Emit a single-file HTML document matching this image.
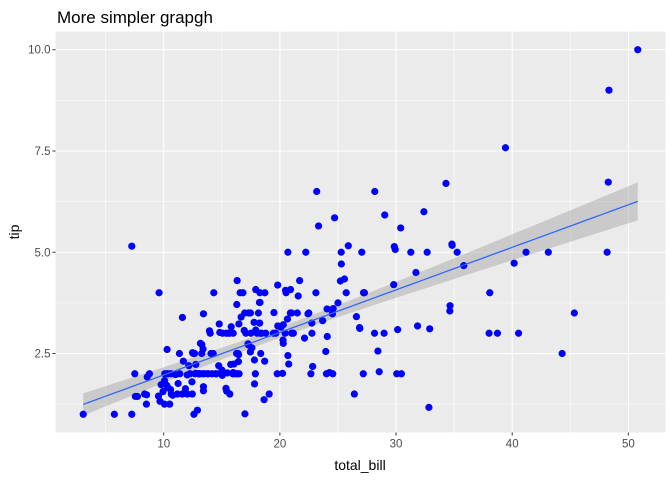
<!DOCTYPE html>
<html><head><meta charset="utf-8"><style>
body{margin:0;background:#fff;font-family:"Liberation Sans",sans-serif}
</style></head><body>
<svg id="chart" width="672" height="480" xmlns="http://www.w3.org/2000/svg">
<text x="57" y="23" font-size="17" fill="#000">More simpler grapgh</text>
<rect x="55.5" y="31.5" width="610" height="401" fill="#EBEBEB"/>
<g id="grid"></g><g id="band"></g><g id="pts"></g><g id="axes"></g>
<text x="360" y="470" font-size="14" text-anchor="middle" fill="#000">total_bill</text>
<text transform="translate(19,232) rotate(-90)" font-size="14" text-anchor="middle" fill="#000">tip</text>
</svg>
<script>
const totalBill=[16.99,10.34,21.01,23.68,24.59,25.29,8.77,26.88,15.04,14.78,10.27,35.26,15.42,18.43,14.83,21.58,10.33,16.29,16.97,20.65,17.92,20.29,15.77,39.42,19.82,17.81,13.37,12.69,21.7,19.65,9.55,18.35,15.06,20.69,17.78,24.06,16.31,16.93,18.69,31.27,16.04,17.46,13.94,9.68,30.4,18.29,22.23,32.4,28.55,18.04,12.54,10.29,34.81,9.94,25.56,19.49,38.01,26.41,11.24,48.27,20.29,13.81,11.02,18.29,17.59,20.08,16.45,3.07,20.23,15.01,12.02,17.07,26.86,25.28,14.73,10.51,17.92,27.2,22.76,17.29,19.44,16.66,10.07,32.68,15.98,34.83,13.03,18.28,24.71,21.16,28.97,22.49,5.75,16.32,22.75,40.17,27.28,12.03,21.01,12.46,11.35,15.38,44.3,22.42,20.92,15.36,20.49,25.21,18.24,14.31,14.0,7.25,38.07,23.95,25.71,17.31,29.93,10.65,12.43,24.08,11.69,13.42,14.26,15.95,12.48,29.8,8.52,14.52,11.38,22.82,19.08,20.27,11.17,12.26,18.26,8.51,10.33,14.15,16.0,13.16,17.47,34.3,41.19,27.05,16.43,8.35,18.64,11.87,9.78,7.51,14.07,13.13,17.26,24.55,19.77,29.85,48.17,25.0,13.39,16.49,21.5,12.66,16.21,13.81,17.51,24.52,20.76,31.71,10.59,10.63,50.81,15.81,7.25,31.85,16.82,32.9,17.89,14.48,9.6,34.63,34.65,23.33,45.35,23.17,40.55,20.69,20.9,30.46,18.15,23.1,15.69,19.81,28.44,15.48,16.58,7.56,10.34,43.11,13.0,13.51,18.71,12.74,13.0,16.4,20.53,16.47,26.59,38.73,24.27,12.76,30.06,25.89,48.33,13.27,28.17,12.9,28.15,11.59,7.74,30.14,12.16,13.42,8.58,15.98,13.42,16.27,10.09,20.45,13.28,22.12,24.01,15.69,11.61,10.77,15.53,10.07,12.6,32.83,35.83,29.03,27.18,22.67,17.82,18.78];
const tip=[1.01,1.66,3.5,3.31,3.61,4.71,2.0,3.12,1.96,3.23,1.71,5.0,1.57,3.0,3.02,3.92,1.67,3.71,3.5,3.35,4.08,2.75,2.23,7.58,3.18,2.34,2.0,2.0,4.3,3.0,1.45,2.5,3.0,2.45,3.27,3.6,2.0,3.07,2.31,5.0,2.24,2.54,3.06,1.32,5.6,3.0,5.0,6.0,2.05,3.0,2.5,2.6,5.2,1.56,4.34,3.51,3.0,1.5,1.76,6.73,3.21,2.0,1.98,3.76,2.64,3.15,2.47,1.0,2.01,2.09,1.97,3.0,3.14,5.0,2.2,1.25,3.08,4.0,3.0,2.71,3.0,3.4,1.83,5.0,2.03,5.17,2.0,4.0,5.85,3.0,3.0,3.5,1.0,4.3,3.25,4.73,4.0,1.5,3.0,1.5,2.5,3.0,2.5,3.48,4.08,1.64,4.06,4.29,3.76,4.0,3.0,1.0,4.0,2.55,4.0,3.5,5.07,1.5,1.8,2.92,2.31,1.68,2.5,2.0,2.52,4.2,1.48,2.0,2.0,2.18,1.5,2.83,1.5,2.0,3.25,1.25,2.0,2.0,2.0,2.75,3.5,6.7,5.0,5.0,2.3,1.5,1.36,1.63,1.73,2.0,2.5,2.0,2.74,2.0,2.0,5.14,5.0,3.75,2.61,2.0,3.5,2.5,2.0,2.0,3.0,3.48,2.24,4.5,1.61,2.0,10.0,3.16,5.15,3.18,4.0,3.11,2.0,2.0,4.0,3.55,3.68,5.65,3.5,6.5,3.0,5.0,3.5,2.0,3.5,4.0,1.5,4.19,2.56,2.02,4.0,1.44,2.0,5.0,2.0,2.0,4.0,2.01,2.0,2.5,4.0,3.23,3.41,3.0,2.03,2.23,2.0,5.16,9.0,2.5,6.5,1.1,3.0,1.5,1.44,3.09,2.2,3.48,1.92,3.0,1.58,2.5,2.0,3.0,2.72,2.88,2.0,3.0,3.39,1.47,3.0,1.25,1.0,1.17,4.67,5.92,2.0,2.0,1.75,3.0];
const xTicks=[10,20,30,40,50];
const yTicks=[2.5,5.0,7.5,10.0];
const yTickLabels=["2.5","5.0","7.5","10.0"];
const NS="http://www.w3.org/2000/svg";
const L=55.5,R=665.5,T=31.5,B=432.5;
const xmin=Math.min(...totalBill),xmax=Math.max(...totalBill),ymin=Math.min(...tip),ymax=Math.max(...tip);
const xlo=xmin-(xmax-xmin)*0.05,xhi=xmax+(xmax-xmin)*0.05,ylo=ymin-(ymax-ymin)*0.05,yhi=ymax+(ymax-ymin)*0.05;
const sx=v=>L+(v-xlo)/(xhi-xlo)*(R-L), sy=v=>B-(v-ylo)/(yhi-ylo)*(B-T);
function mk(t,a,p){const e=document.createElementNS(NS,t);for(const k in a)e.setAttribute(k,a[k]);p.appendChild(e);return e;}
const grid=document.getElementById('grid'),axes=document.getElementById('axes');
const xm=[];for(let i=0;i<xTicks.length;i++){xm.push(xTicks[i]);if(i<xTicks.length-1)xm.push((xTicks[i]+xTicks[i+1])/2);}
xm.unshift(xTicks[0]-5);
xm.forEach(v=>{if(v<xlo||v>xhi)return;const maj=xTicks.includes(v);const l=mk('line',{x1:sx(v),x2:sx(v),y1:T,y2:B,stroke:'#fff','stroke-width':maj?1.1:0.55},grid);

});
const ym=[];for(let i=0;i<yTicks.length;i++){ym.push(yTicks[i]);if(i<yTicks.length-1)ym.push((yTicks[i]+yTicks[i+1])/2);}
ym.unshift(yTicks[0]-1.25);
ym.forEach(v=>{if(v<ylo||v>yhi)return;const maj=yTicks.includes(v);const l=mk('line',{x1:L,x2:R,y1:sy(v),y2:sy(v),stroke:'#fff','stroke-width':maj?1.1:0.55},grid);

});
xTicks.forEach(v=>{const t=mk('line',{x1:sx(v),x2:sx(v),y1:B,y2:B+3,stroke:'#333'},axes);


const tx=mk('text',{x:sx(v),y:B+15,'font-size':11.5,'text-anchor':'middle',fill:'#4D4D4D'},axes);tx.textContent=v;

});
yTicks.forEach((v,i)=>{const t=mk('line',{x1:L-3,x2:L,y1:sy(v),y2:sy(v),stroke:'#333'},axes);


const tx=mk('text',{x:L-5,y:sy(v)+4,'font-size':11.5,'text-anchor':'end',fill:'#4D4D4D'},axes);tx.textContent=yTickLabels[i];

});
// regression
const n=totalBill.length;const mx=totalBill.reduce((a,b)=>a+b)/n,my=tip.reduce((a,b)=>a+b)/n;
let sxx=0,sxy=0;for(let i=0;i<n;i++){sxx+=(totalBill[i]-mx)**2;sxy+=(totalBill[i]-mx)*(tip[i]-my);}
const b1=sxy/sxx,b0=my-b1*mx;let sse=0;for(let i=0;i<n;i++)sse+=(tip[i]-b0-b1*totalBill[i])**2;
const s=Math.sqrt(sse/(n-2)),tq=1.97;
const up=[],dn=[],ln=[];for(let k=0;k<=80;k++){const x=xmin+(xmax-xmin)*k/80,f=b0+b1*x,se=s*Math.sqrt(1/n+(x-mx)**2/sxx);
up.push(sx(x)+','+sy(f+tq*se));dn.unshift(sx(x)+','+sy(f-tq*se));ln.push(sx(x)+','+sy(f));}
const band=document.getElementById('band');
const bp=mk('polygon',{points:up.concat(dn).join(' '),fill:'#999','fill-opacity':0.4},band);


const pts=document.getElementById('pts');
for(let i=0;i<n;i++){const c=mk('circle',{cx:sx(totalBill[i]),cy:sy(tip[i]),r:3.6,fill:'#0000FF'},pts);

}
const rl=mk('polyline',{points:ln.join(' '),fill:'none',stroke:'#3366FF','stroke-width':1.3},pts);


</script>
</body></html>
